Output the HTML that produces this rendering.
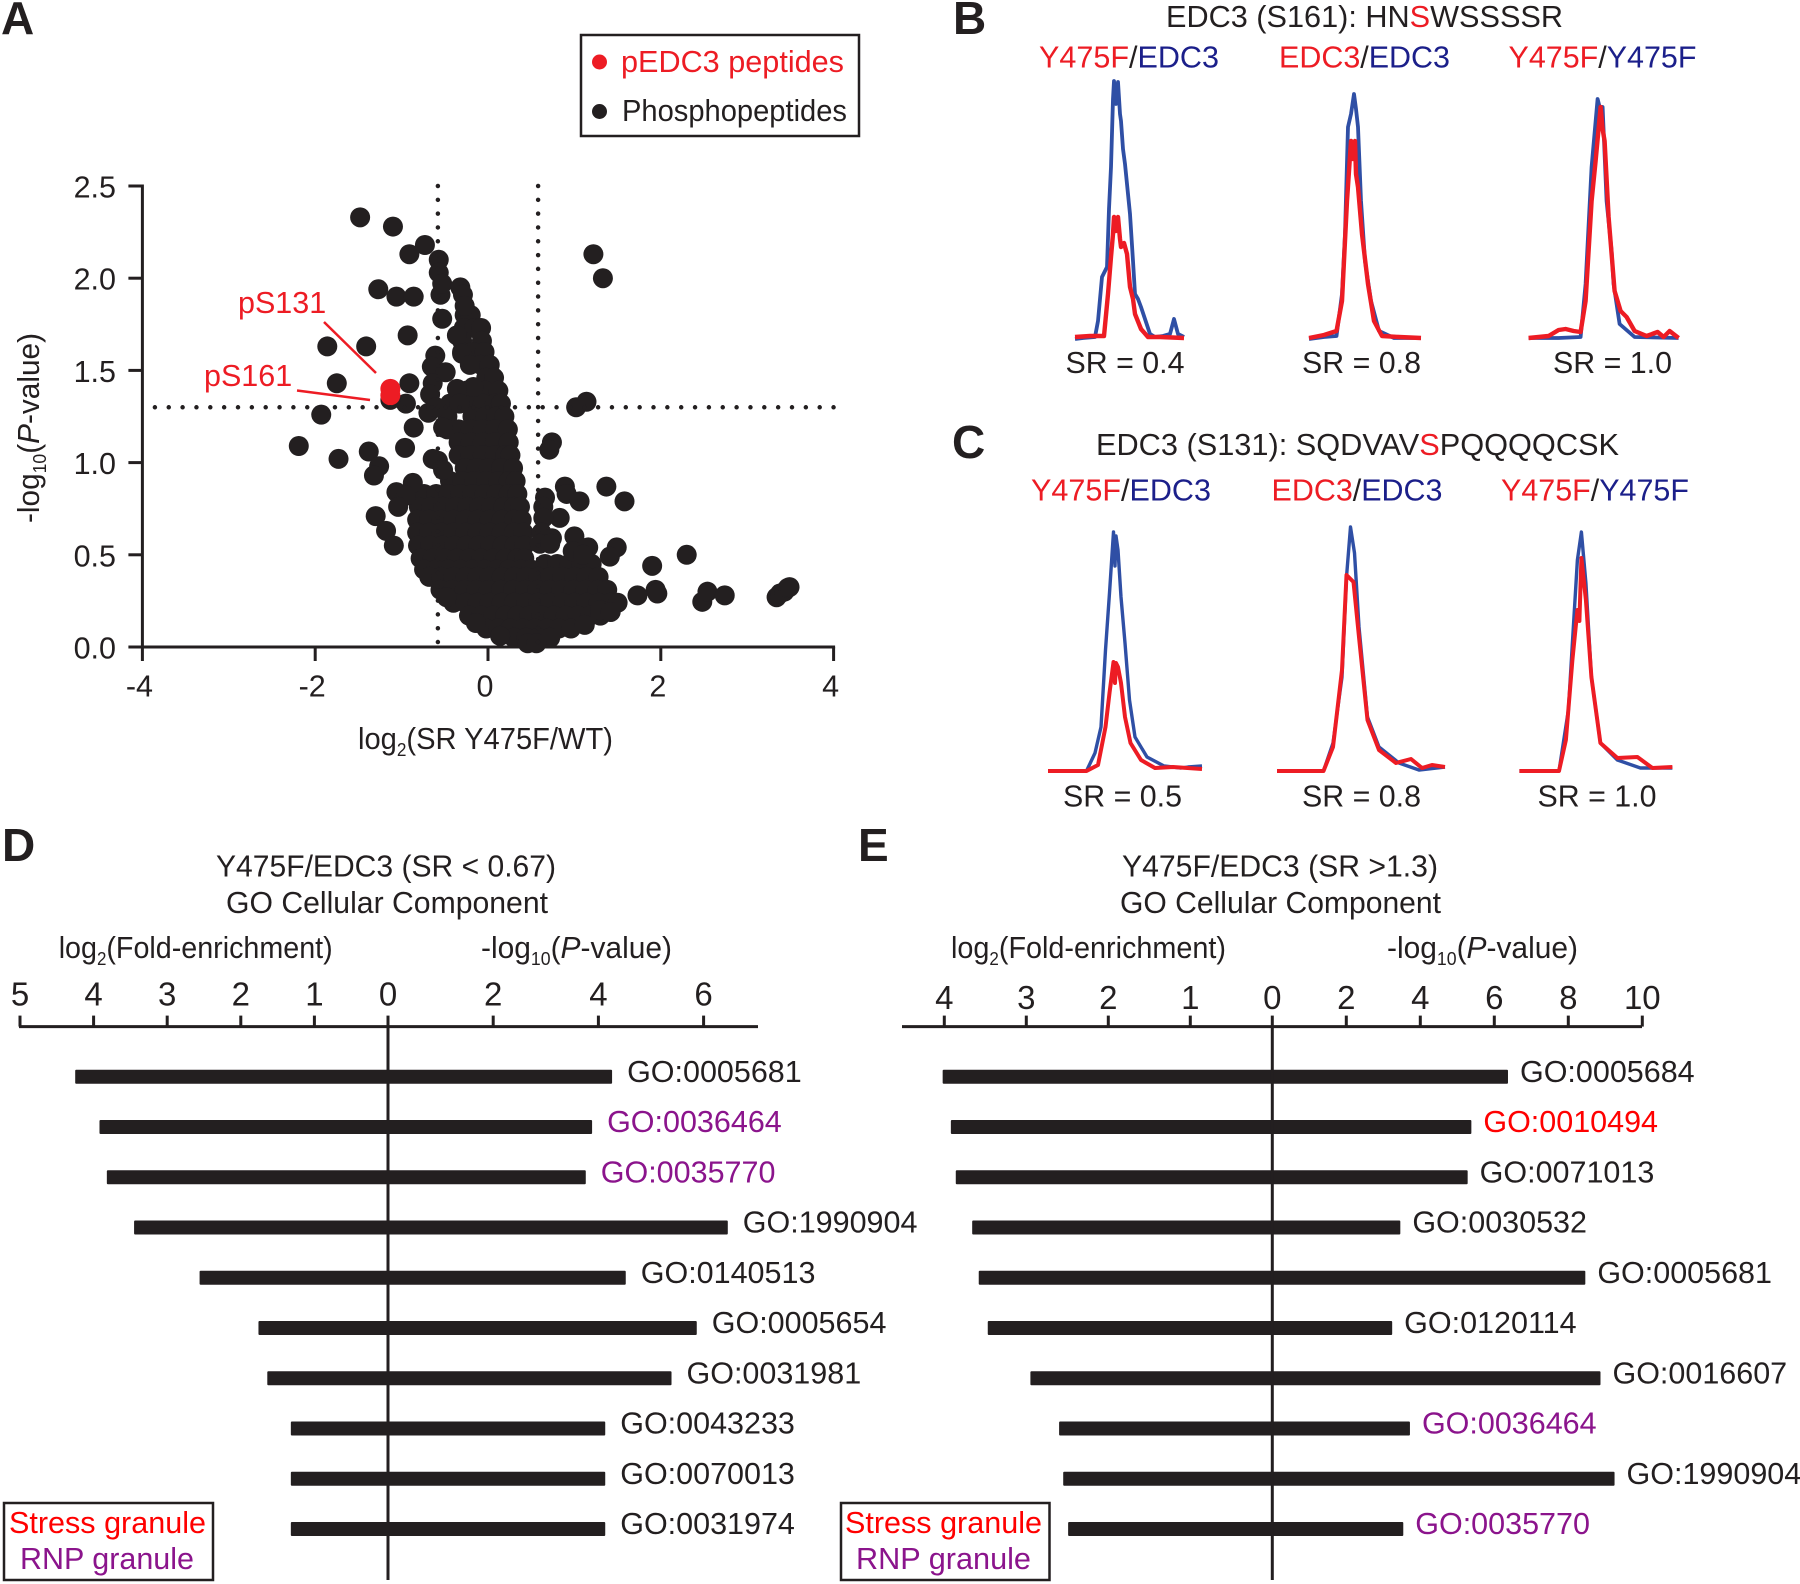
<!DOCTYPE html>
<html lang="en">
<head>
<meta charset="utf-8">
<title>EDC3 phosphoproteomics figure</title>
<style>
html,body{margin:0;padding:0;background:#fff;}
svg{display:block;}
text{font-family:"Liberation Sans",sans-serif;font-size:30.5px;fill:#231f20;}
.panel{font-size:46px;font-weight:bold;}
.r{fill:#ed1c24;}
.b{fill:#1b1f8a;}
.sr{fill:#ff0000;}
.p{fill:#8b148c;}
</style>
</head>
<body>
<svg id="figure" xmlns="http://www.w3.org/2000/svg" width="1800" height="1584" viewBox="0 0 1800 1584">
<rect x="0" y="0" width="1800" height="1584" fill="#fff"/>

<text class="panel" x="1" y="34">A</text>
<text class="panel" x="953" y="34">B</text>
<text class="panel" x="952" y="458">C</text>
<text class="panel" x="2" y="861">D</text>
<text class="panel" x="858" y="861">E</text>

<!-- Panel A -->
<g id="volcano"></g>
<g>
  <rect x="581" y="35" width="278" height="101" fill="none" stroke="#231f20" stroke-width="2.5"/>
  <circle cx="599.5" cy="62" r="7.5" fill="#ed1c24"/>
  <text class="r" x="621" y="72" textLength="223" lengthAdjust="spacingAndGlyphs">pEDC3 peptides</text>
  <circle cx="599.5" cy="111.5" r="7.5" fill="#231f20"/>
  <text x="622" y="121" textLength="225" lengthAdjust="spacingAndGlyphs">Phosphopeptides</text>
</g>
<text x="358" y="749" textLength="255" lengthAdjust="spacingAndGlyphs">log<tspan font-size="18" dy="7">2</tspan><tspan dy="-7">(SR Y475F/WT)</tspan></text>
<text transform="rotate(-90 39 428)" x="39" y="428" text-anchor="middle" textLength="190" lengthAdjust="spacingAndGlyphs">-log<tspan font-size="18" dy="7">10</tspan><tspan dy="-7">(</tspan><tspan font-style="italic">P</tspan><tspan>-value)</tspan></text>
<text class="r" x="238" y="313">pS131</text>
<text class="r" x="204" y="386">pS161</text>
<line x1="324" y1="322" x2="376" y2="373" stroke="#ed1c24" stroke-width="2.5"/>
<line x1="297" y1="390.5" x2="370" y2="400" stroke="#ed1c24" stroke-width="2.5"/>

<!-- Panel B -->
<text x="1166" y="27" textLength="397" lengthAdjust="spacingAndGlyphs">EDC3 (S161): HN<tspan class="r">S</tspan>WSSSSR</text>
<text x="1039" y="67.5" textLength="180" lengthAdjust="spacingAndGlyphs"><tspan class="r">Y475F</tspan>/<tspan class="b">EDC3</tspan></text>
<text x="1279" y="67.5" textLength="171" lengthAdjust="spacingAndGlyphs"><tspan class="r">EDC3</tspan>/<tspan class="b">EDC3</tspan></text>
<text x="1508.5" y="67.5" textLength="188" lengthAdjust="spacingAndGlyphs"><tspan class="r">Y475F</tspan>/<tspan class="b">Y475F</tspan></text>
<text x="1065.5" y="373" textLength="119" lengthAdjust="spacingAndGlyphs">SR = 0.4</text>
<text x="1302" y="373" textLength="119" lengthAdjust="spacingAndGlyphs">SR = 0.8</text>
<text x="1553" y="373" textLength="119" lengthAdjust="spacingAndGlyphs">SR = 1.0</text>

<!-- Panel C -->
<text x="1096" y="455" textLength="523" lengthAdjust="spacingAndGlyphs">EDC3 (S131): SQDVAV<tspan class="r">S</tspan>PQQQQCSK</text>
<text x="1031" y="500.5" textLength="180" lengthAdjust="spacingAndGlyphs"><tspan class="r">Y475F</tspan>/<tspan class="b">EDC3</tspan></text>
<text x="1271.5" y="500.5" textLength="171" lengthAdjust="spacingAndGlyphs"><tspan class="r">EDC3</tspan>/<tspan class="b">EDC3</tspan></text>
<text x="1501" y="500.5" textLength="188" lengthAdjust="spacingAndGlyphs"><tspan class="r">Y475F</tspan>/<tspan class="b">Y475F</tspan></text>
<text x="1063" y="806.5" textLength="119" lengthAdjust="spacingAndGlyphs">SR = 0.5</text>
<text x="1302" y="806.5" textLength="119" lengthAdjust="spacingAndGlyphs">SR = 0.8</text>
<text x="1537.5" y="806.5" textLength="119" lengthAdjust="spacingAndGlyphs">SR = 1.0</text>

<g id="traces"></g>

<!-- Panel D -->
<text x="216" y="876.5" textLength="340" lengthAdjust="spacingAndGlyphs">Y475F/EDC3 (SR &lt; 0.67)</text>
<text x="226" y="913" textLength="322" lengthAdjust="spacingAndGlyphs">GO Cellular Component</text>
<text x="58.7" y="958" textLength="274" lengthAdjust="spacingAndGlyphs">log<tspan font-size="18" dy="7">2</tspan><tspan dy="-7">(Fold-enrichment)</tspan></text>
<text x="481" y="958" textLength="191" lengthAdjust="spacingAndGlyphs">-log<tspan font-size="18" dy="7">10</tspan><tspan dy="-7">(</tspan><tspan font-style="italic">P</tspan><tspan>-value)</tspan></text>
<g id="panelD"></g>
<g>
  <rect x="4" y="1503" width="209" height="77" fill="#fff" stroke="#231f20" stroke-width="2.5"/>
  <text class="sr" x="9" y="1533" textLength="197" lengthAdjust="spacingAndGlyphs">Stress granule</text>
  <text class="p" x="20" y="1569" textLength="174" lengthAdjust="spacingAndGlyphs">RNP granule</text>
</g>

<!-- Panel E -->
<text x="1122" y="876.5" textLength="316" lengthAdjust="spacingAndGlyphs">Y475F/EDC3 (SR &gt;1.3)</text>
<text x="1120" y="913" textLength="321" lengthAdjust="spacingAndGlyphs">GO Cellular Component</text>
<text x="951" y="958" textLength="275" lengthAdjust="spacingAndGlyphs">log<tspan font-size="18" dy="7">2</tspan><tspan dy="-7">(Fold-enrichment)</tspan></text>
<text x="1387" y="958" textLength="191" lengthAdjust="spacingAndGlyphs">-log<tspan font-size="18" dy="7">10</tspan><tspan dy="-7">(</tspan><tspan font-style="italic">P</tspan><tspan>-value)</tspan></text>
<g id="panelE"></g>
<g>
  <rect x="841" y="1503" width="208.5" height="77" fill="#fff" stroke="#231f20" stroke-width="2.5"/>
  <text class="sr" x="845" y="1533" textLength="197" lengthAdjust="spacingAndGlyphs">Stress granule</text>
  <text class="p" x="856" y="1569" textLength="175" lengthAdjust="spacingAndGlyphs">RNP granule</text>
</g>
</svg>

<script>
// ---------- Panel A data ----------
const volcanoXTicks = [-4, -2, 0, 2, 4];
const volcanoYTicks = [0, 0.5, 1, 1.5, 2, 2.5];
const thresholdP = 1.3;
const thresholdSR = 0.58;

const sparseLog2SR = [-1.48,-1.10,-0.91,-0.73,-0.57,-0.57,-1.27,-1.06,-0.86,-1.86,-1.41,-0.93,-1.75,-0.91,-1.93,-2.19,-1.73,-1.38,-1.26,-1.32,-0.96,-0.86,-0.95,-1.13,-1.30,-1.18,-1.09,-0.87,-1.06,-0.95,-1.04,
  -0.55,-0.53,-0.32,-0.29,-0.27,-0.53,-0.36,-0.30,-0.21,-0.61,-0.65,-0.49,-0.64,-0.67,-0.69,-0.60,-0.52,-0.58,-0.52,-0.64,-0.17,-0.36,
  1.22,1.33,1.14,1.02,0.74,0.71,0.89,0.91,1.06,1.37,1.58,0.83,0.66,0.64,0.64,0.62,0.74,0.60,0.72,1.00,1.16,1.49,1.41,1.90,1.94,1.96,1.73,2.30,2.48,2.54,2.74,3.34,3.38,3.43,3.47,3.49,
  -0.14,0.14,-0.48,1.12,0.98,1.10,-0.33,1.30,1.42];
const sparseLogP = [2.33,2.28,2.13,2.18,2.10,2.03,1.94,1.90,1.90,1.63,1.63,1.69,1.43,1.43,1.26,1.09,1.02,1.06,0.98,0.93,1.08,1.19,1.32,1.34,0.71,0.63,0.55,0.89,0.84,0.82,0.76,
  1.91,1.97,1.95,1.91,1.85,1.78,1.69,1.59,1.53,1.58,1.52,1.49,1.43,1.37,1.27,1.30,1.19,1.01,0.96,1.02,1.41,1.40,
  2.13,2.00,1.33,1.30,1.11,1.07,0.87,0.83,0.79,0.87,0.79,0.70,0.81,0.76,0.70,0.62,0.59,0.56,0.56,0.60,0.54,0.54,0.49,0.44,0.31,0.29,0.28,0.50,0.245,0.30,0.28,0.27,0.29,0.30,0.32,0.325,
  0.13,0.06,0.27,0.12,0.52,0.50,1.32,0.20,0.19];

const cloudLogP = [1.80,1.73,1.66,1.60,1.53,1.46,1.39,1.32,1.25,1.18,1.11,1.04,0.97,0.90,0.83,0.76,0.69,0.62,0.55,0.48,0.45,0.42,0.38,0.31,0.24,0.17,0.10,0.05,0.02];
const cloudLog2SR = [
  [-0.27,-0.20],
  [-0.28,-0.16,-0.08],
  [-0.30,-0.07],
  [-0.30,-0.18,-0.04],
  [-0.08,0.02],
  [-0.02,0.07],
  [-0.25,-0.03,0.12],
  [-0.44,-0.18,-0.06,0.08,0.15],
  [-0.47,-0.18,-0.03,0.10,0.19],
  [-0.47,-0.34,-0.20,-0.06,0.08,0.23],
  [-0.34,-0.20,-0.06,0.08,0.24],
  [-0.34,-0.20,-0.06,0.08,0.20,0.26],
  [-0.27,-0.13,0.01,0.15,0.29],
  [-0.44,-0.30,-0.16,-0.02,0.12,0.24,0.32],
  [-0.74,-0.60,-0.46,-0.32,-0.18,-0.04,0.10,0.24,0.34],
  [-0.80,-0.66,-0.52,-0.38,-0.24,-0.10,0.04,0.18,0.30,0.37],
  [-0.82,-0.68,-0.54,-0.40,-0.26,-0.12,0.02,0.16,0.30,0.39],
  [-0.82,-0.68,-0.54,-0.40,-0.26,-0.12,0.02,0.16,0.30,0.41],
  [-0.81,-0.67,-0.53,-0.39,-0.25,-0.11,0.03,0.17,0.31,0.42],
  [-0.78,-0.64,-0.50,-0.36,-0.22,-0.08,0.06,0.20,0.34,0.42],
  [0.66,0.80,0.94,1.08,1.20],
  [-0.74,-0.60,-0.46,-0.32,-0.18,-0.04,0.10,0.24,0.38,0.50],
  [-0.68,-0.54,-0.40,-0.26,-0.12,0.02,0.16,0.30,0.44,0.58,0.72,0.86,1.00,1.14,1.28],
  [-0.55,-0.41,-0.27,-0.13,0.01,0.15,0.29,0.43,0.57,0.71,0.85,0.99,1.13,1.27,1.38],
  [-0.40,-0.26,-0.12,0.02,0.16,0.30,0.44,0.58,0.72,0.86,1.00,1.14,1.28,1.42,1.50],
  [-0.22,-0.08,0.06,0.20,0.34,0.48,0.62,0.76,0.90,1.04,1.18,1.30],
  [-0.02,0.12,0.26,0.40,0.54,0.68,0.82,0.96],
  [0.30,0.44,0.58,0.72],
  [0.46,0.56]
];
const pedc3Log2SR = [-1.13,-1.13];
const pedc3LogP = [1.40,1.365];

// ---------- Panels B and C chromatogram data ----------
const b1Rt = [0,8,20,23,27,32,34,36,38,39,41,43,45,46,48,50,55,58,60,63,66,70,75,80,88,95,99,103,109];
const b1Blue = [0,1,2,18,62,72,130,172,240,258,235,257,225,218,190,175,125,78,45,40,32,20,5,2,3,5,20,5,2];
const b1RedRt = [0,15,29,33,36,38,39,41,43,45,46,49,52,55,58,60,66,73,85,109];
const b1Red = [2,3,3,45,82,105,122,108,122,100,92,96,85,52,40,25,10,2,2,1];
const b2Rt = [0,15,27.5,33,36,39,42,45,47,49,52,56,62,70,85,112];
const b2Blue = [0,2,3,45,105,212,225,245,230,212,138,78,38,8,1,1];
const b2RedRt = [0,15,27.5,33,38,42,44,46,47,49,53,59,65,73,90,112];
const b2Red = [1,4,8,38,138,198,180,198,165,152,105,55,18,3,2,1];
const b3Rt = [0,30,52,57,63,69,72,74,78,83,85,91,106,150];
const b3Blue = [1,1,2,55,172,240,228,232,138,88,55,15,2,1];
const b3RedRt = [0,20,30,37,45,52,57,63,67,72,74,76,80,86,92,98,106,118,129,135,141,150];
const b3Red = [1,3,9,10,8,7,38,138,178,232,210,198,122,48,28,22,8,3,7,2,8,1];
const c1Rt = [0,38.5,47,53,57.5,61.5,65.5,67,68,70,73,77,81.5,87,99,116,133,140,154];
const c1Blue = [0,0,18,44,121,178,239,205,235,221,174,128,71,34,14,5,3,4,5];
const c1RedRt = [0,38.5,50,57.5,61.5,65.5,67,68,70,73,77,82.5,93,107,125,154];
const c1Red = [0,0,6,44,78,109,88,108,104,88,54,28,11,3,4,2];
const c2Rt = [0,46.5,56,65,69.5,73.5,77.5,82,90.5,102,122,142,168];
const c2Blue = [0,0,28,94,194,244,218,144,54,24,8,1,4];
const c2RedRt = [0,46.5,56,65,69.5,76.5,82,90.5,102,119,134,145,155,168];
const c2Red = [0,0,24,101,196,189,134,51,21,8,12,3,6,4];
const c3Rt = [0,39.6,49,53,58,62,66.5,72,81,98,121,153];
const c3Blue = [0,0,61,128,211,239,188,94,28,11,3,3];
const c3RedRt = [0,39.6,46.5,53,58,60,62,66.5,72,81,98,118,133,153];
const c3Red = [0,0,31,111,161,150,213,171,94,28,13,14,3,4];

// ---------- Panel D data ----------
const dTerms = ["GO:0005681","GO:0036464","GO:0035770","GO:1990904","GO:0140513","GO:0005654","GO:0031981","GO:0043233","GO:0070013","GO:0031974"];
const dFold = [4.25,3.92,3.82,3.45,2.56,1.76,1.64,1.32,1.32,1.32];
const dLogP = [4.26,3.88,3.76,6.46,4.52,5.87,5.39,4.13,4.13,4.13];
const dKinds = ["none","rnp","rnp","none","none","none","none","none","none","none"];
const dFoldTicks = [5,4,3,2,1,0];
const dPTicks = [2,4,6];

// ---------- Panel E data ----------
const eTerms = ["GO:0005684","GO:0010494","GO:0071013","GO:0030532","GO:0005681","GO:0120114","GO:0016607","GO:0036464","GO:1990904","GO:0035770"];
const eFold = [4.02,3.92,3.86,3.66,3.58,3.47,2.95,2.60,2.55,2.49];
const eLogP = [6.37,5.38,5.28,3.46,8.46,3.24,8.87,3.72,9.25,3.54];
const eKinds = ["none","stress","none","none","none","none","none","rnp","none","rnp"];
const eFoldTicks = [4,3,2,1,0];
const ePTicks = [2,4,6,8,10];

// ---------- Drawing ----------
const NS = "http://www.w3.org/2000/svg";
const INK = "#231f20";
function make(parent, tag, attrs) {
  const el = document.createElementNS(NS, tag);
  for (const k in attrs) el.setAttribute(k, attrs[k]);
  parent.appendChild(el);
  return el;
}

// Panel A
const volcano = document.getElementById("volcano");
const xA = v => 488 + v * 86.4;
const yA = v => 647 - v * 184.4;
const POINT_R = 10;

function addPeptide(sr, p) {
  const c = make(volcano, "circle", {cx: xA(sr), cy: yA(p), r: POINT_R, fill: INK});
  
  
}
cloudLog2SR.forEach((row, i) => row.forEach(sr => addPeptide(sr, cloudLogP[i])));
sparseLog2SR.forEach((sr, i) => addPeptide(sr, sparseLogP[i]));
pedc3Log2SR.forEach((sr, i) => {
  const c = make(volcano, "circle", {cx: xA(sr), cy: yA(pedc3LogP[i]), r: 10, fill: "#ed1c24"});
  
  
});

const dotStyle = {stroke: INK, "stroke-width": 4.5, "stroke-linecap": "round", fill: "none"};
const hThreshold = make(volcano, "line", Object.assign({x1: 154.9, x2: xA(4) + 1, y1: yA(thresholdP), y2: yA(thresholdP), "stroke-dasharray": "0 13.85"}, dotStyle));


[-thresholdSR, thresholdSR].forEach(v => {
  const l = make(volcano, "line", Object.assign({x1: xA(v), x2: xA(v), y1: yA(2.5), y2: yA(0), "stroke-dasharray": "0 13.82"}, dotStyle));
  
  
});

const axisStyle = {stroke: INK, "stroke-width": 3, fill: "none"};
const xAxisLine = make(volcano, "line", Object.assign({x1: xA(-4) - 1.5, x2: xA(4) + 1.5, y1: yA(0), y2: yA(0)}, axisStyle));


const yAxisLine = make(volcano, "line", Object.assign({x1: xA(-4), x2: xA(-4), y1: yA(2.5) - 1.5, y2: yA(0) + 1.5}, axisStyle));



volcanoXTicks.forEach(v => {
  const t = make(volcano, "line", Object.assign({x1: xA(v), x2: xA(v), y1: yA(0), y2: yA(0) + 14}, axisStyle));
  
  
  const lab = make(volcano, "text", {x: xA(v) - 3, y: 696.5, "text-anchor": "middle"});
  lab.textContent = String(v);
  
  
});
volcanoYTicks.forEach(v => {
  const t = make(volcano, "line", Object.assign({x1: xA(-4) - 14, x2: xA(-4), y1: yA(v), y2: yA(v)}, axisStyle));
  
  
  const lab = make(volcano, "text", {x: 116, y: yA(v) + 11.5, "text-anchor": "end"});
  lab.textContent = v.toFixed(1);
  
  
});

// Panels B and C
const traces = document.getElementById("traces");
function drawTrace(originX, baseY, rt, intensity, color, width) {
  const xT = v => originX + v;
  const yT = v => baseY - v;
  const pts = rt.map((v, i) => xT(v).toFixed(1) + "," + yT(intensity[i]).toFixed(1)).join(" ");
  const line = make(traces, "polyline", {points: pts, fill: "none", stroke: color, "stroke-width": width, "stroke-linejoin": "round"});
  
  
}
const BLUE = "#2f4fa5";
const RED = "#ed1c24";
drawTrace(1075, 339, b1Rt, b1Blue, BLUE, 3.8);
drawTrace(1075, 339, b1RedRt, b1Red, RED, 4.4);
drawTrace(1309, 339, b2Rt, b2Blue, BLUE, 3.8);
drawTrace(1309, 339, b2RedRt, b2Red, RED, 4.4);
drawTrace(1528.6, 339, b3Rt, b3Blue, BLUE, 3.8);
drawTrace(1528.6, 339, b3RedRt, b3Red, RED, 4.4);
drawTrace(1048, 771, c1Rt, c1Blue, BLUE, 3.4);
drawTrace(1048, 771, c1RedRt, c1Red, RED, 4);
drawTrace(1277, 771, c2Rt, c2Blue, BLUE, 3.4);
drawTrace(1277, 771, c2RedRt, c2Red, RED, 4);
drawTrace(1519.4, 771, c3Rt, c3Blue, BLUE, 3.4);
drawTrace(1519.4, 771, c3RedRt, c3Red, RED, 4);

// Panels D and E
const KIND_COLOR = {none: INK, stress: "#ff0000", rnp: "#8b148c"};
const ROW_CENTER = i => 1076.8 + i * 50.25;
function drawGoPanel(group, zeroX, foldUnit, pUnit, axisL, axisR, tickBase, gap, terms, fold, logP, kinds, foldTicks, pTicks) {
  const xFold = v => zeroX - v * foldUnit;
  const xP = v => zeroX + v * pUnit;
  const axisY = 1026.6;
  terms.forEach((term, i) => {
    const y = ROW_CENTER(i);
    const bar = make(group, "rect", {x: xFold(fold[i]), y: y - 7, width: xP(logP[i]) - xFold(fold[i]), height: 14, rx: 1, fill: INK});
    
    
    const lab = make(group, "text", {x: xP(logP[i]) + gap, y: y + 5});
    lab.textContent = term;
    lab.style.fill = KIND_COLOR[kinds[i]];
    
    
  });
  const axis = make(group, "line", Object.assign({x1: axisL, x2: axisR, y1: axisY, y2: axisY}, axisStyle));
  
  
  const center = make(group, "line", Object.assign({x1: zeroX, x2: zeroX, y1: axisY, y2: 1580}, axisStyle));
  
  
  const addTick = (x, label) => {
    const t = make(group, "line", Object.assign({x1: x, x2: x, y1: axisY - 11, y2: axisY}, axisStyle));
    
    
    const lab = make(group, "text", {x: x, y: tickBase, "text-anchor": "middle"});
    lab.style.fontSize = "33px";
    lab.textContent = String(label);
    
    
  };
  foldTicks.forEach(v => addTick(xFold(v), v));
  pTicks.forEach(v => addTick(xP(v), v));
}
drawGoPanel(document.getElementById("panelD"), 388, 73.6, 52.6, 19, 758, 1005.7, 15, dTerms, dFold, dLogP, dKinds, dFoldTicks, dPTicks);
drawGoPanel(document.getElementById("panelE"), 1272.3, 82, 37, 902, 1642, 1009, 12, eTerms, eFold, eLogP, eKinds, eFoldTicks, ePTicks);
</script>
</body>
</html>
